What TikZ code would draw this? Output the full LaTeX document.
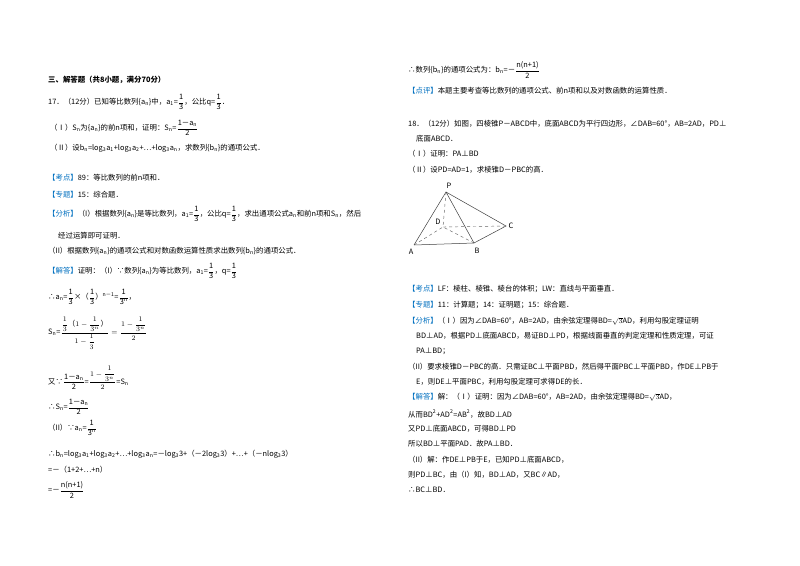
\documentclass[tikz,border=0pt]{standalone}
\usepackage{fontspec}
\usepackage{amsmath,amssymb}
\setmainfont{Noto Sans CJK SC}
\definecolor{kb}{RGB}{0,112,192}
\newcommand{\kt}[1]{\textcolor{kb}{【#1】}}
\newcommand{\fr}[2]{$\dfrac{\text{#1}}{\text{#2}}$}
\begin{document}
\begin{tikzpicture}[x=1pt,y=-1pt,every node/.style={anchor=west,inner sep=0pt,font=\fontsize{7.4}{8}\selectfont},
 solid line/.style={draw=black!75,line width=0.5pt},dline/.style={draw=black!60,dashed,line width=0.45pt}]
\useasboundingbox[fill=white] (0,0) rectangle (800,565);
% left column
\node (l1) at (48,80) {\textbf{三、解答题（共8小题，满分70分）}};
\node (l2) at (48,102) {17．（12分）已知等比数列\{a\textsubscript{n}\}中，a\textsubscript{1}=\fr{1}{3}，公比q=\fr{1}{3}．};
\node (l3) at (50,128) {（Ⅰ）S\textsubscript{n}为\{a\textsubscript{n}\}的前n项和，证明：S\textsubscript{n}=\fr{1－a\textsubscript{n}}{2}};
\node (l4) at (50,148) {（Ⅱ）设b\textsubscript{n}=log\textsubscript{3}a\textsubscript{1}+log\textsubscript{3}a\textsubscript{2}+…+log\textsubscript{3}a\textsubscript{n}，求数列\{b\textsubscript{n}\}的通项公式．};
\node (l5) at (48,178) {\kt{考点}89：等比数列的前n项和．};
\node (l6) at (48,195) {\kt{专题}15：综合题．};
\node (l7) at (48,214) {\kt{分析}（I）根据数列\{a\textsubscript{n}\}是等比数列，a\textsubscript{1}=\fr{1}{3}，公比q=\fr{1}{3}，求出通项公式a\textsubscript{n}和前n项和S\textsubscript{n}，然后};
\node (l8) at (58,236) {经过运算即可证明．};
\node (l9) at (48,251) {（II）根据数列\{a\textsubscript{n}\}的通项公式和对数函数运算性质求出数列\{b\textsubscript{n}\}的通项公式．};
\node (l10) at (48,271) {\kt{解答}证明：（I）∵数列\{a\textsubscript{n}\}为等比数列，a\textsubscript{1}=\fr{1}{3}，q=\fr{1}{3}};
\node (l11) at (48,297) {∴a\textsubscript{n}=\fr{1}{3}×（\fr{1}{3}）\textsuperscript{n－1}=\fr{1}{3\textsuperscript{n}}，};
\node (l12) at (48,333) {S\textsubscript{n}=$\dfrac{\dfrac{1}{3}\text{（}1-\dfrac{1}{3^n}\text{）}}{1-\dfrac{1}{3}}=\dfrac{1-\dfrac{1}{3^n}}{2}$};
\node (l13) at (48,378) {又∵\fr{1－a\textsubscript{n}}{2}=$\dfrac{1-\dfrac{1}{3^n}}{2}$=S\textsubscript{n}};
\node (l14) at (48,407) {∴S\textsubscript{n}=\fr{1－a\textsubscript{n}}{2}};
\node (l15) at (48,428) {（II）∵a\textsubscript{n}=\fr{1}{3\textsuperscript{n}}};
\node (l16) at (48,454) {∴b\textsubscript{n}=log\textsubscript{3}a\textsubscript{1}+log\textsubscript{3}a\textsubscript{2}+…+log\textsubscript{3}a\textsubscript{n}=－log\textsubscript{3}3+（－2log\textsubscript{3}3）+…+（－nlog\textsubscript{3}3）};
\node (l17) at (48,470) {=－（1+2+…+n）};
\node (l18) at (48,490) {=－\fr{n(n+1)}{2}};
% right column
\node (r1) at (408,70) {∴数列\{b\textsubscript{n}\}的通项公式为：b\textsubscript{n}=－\fr{n(n+1)}{2}};
\node (r2) at (408,91) {\kt{点评}本题主要考查等比数列的通项公式、前n项和以及对数函数的运算性质．};
\node (r3) at (408,124) {18．（12分）如图，四棱锥P－ABCD中，底面ABCD为平行四边形，∠DAB=60°，AB=2AD，PD⊥};
\node (r4) at (416,139) {底面ABCD．};
\node (r5) at (408,154) {（Ⅰ）证明：PA⊥BD};
\node (r6) at (408,170) {（Ⅱ）设PD=AD=1，求棱锥D－PBC的高．};
% figure
\coordinate (P) at (446,192); \coordinate (D) at (443,227); \coordinate (C) at (506,226);
\coordinate (A) at (414,245); \coordinate (B) at (474,243);
\draw[solid line] (A)--(P)--(B) (P)--(C)--(B)--(A);
\draw[dline] (P)--(D) (A)--(D)--(B) (D)--(C);
\node[anchor=center] (pl) at (449,186) {P};
\node[anchor=center] (dl) at (438,222) {D};
\node[anchor=center] (cl) at (511,226) {C};
\node[anchor=center] (al) at (411,252) {A};
\node[anchor=center] (bl) at (477,251) {B};
\node (r7) at (408,289) {\kt{考点}LF：棱柱、棱锥、棱台的体积；LW：直线与平面垂直．};
\node (r8) at (408,305) {\kt{专题}11：计算题；14：证明题；15：综合题．};
\node (r9) at (408,321) {\kt{分析}（Ⅰ）因为∠DAB=60°，AB=2AD，由余弦定理得BD=$\sqrt{3}$AD，利用勾股定理证明};
\node (r10) at (416,336) {BD⊥AD，根据PD⊥底面ABCD，易证BD⊥PD，根据线面垂直的判定定理和性质定理，可证};
\node (r11) at (416,351) {PA⊥BD；};
\node (r12) at (408,367) {（II）要求棱锥D－PBC的高．只需证BC⊥平面PBD，然后得平面PBC⊥平面PBD，作DE⊥PB于};
\node (r13) at (416,382) {E，则DE⊥平面PBC，利用勾股定理可求得DE的长．};
\node (r14) at (408,397) {\kt{解答}解：（Ⅰ）证明：因为∠DAB=60°，AB=2AD，由余弦定理得BD=$\sqrt{3}$AD，};
\node (r15) at (408,414) {从而BD\textsuperscript{2}+AD\textsuperscript{2}=AB\textsuperscript{2}，故BD⊥AD};
\node (r16) at (408,429) {又PD⊥底面ABCD，可得BD⊥PD};
\node (r17) at (408,444) {所以BD⊥平面PAD．故PA⊥BD．};
\node (r18) at (408,460) {（II）解：作DE⊥PB于E，已知PD⊥底面ABCD，};
\node (r19) at (408,475) {则PD⊥BC，由（I）知，BD⊥AD，又BC∥AD，};
\node (r20) at (408,490) {∴BC⊥BD．};
\end{tikzpicture}
\end{document}
